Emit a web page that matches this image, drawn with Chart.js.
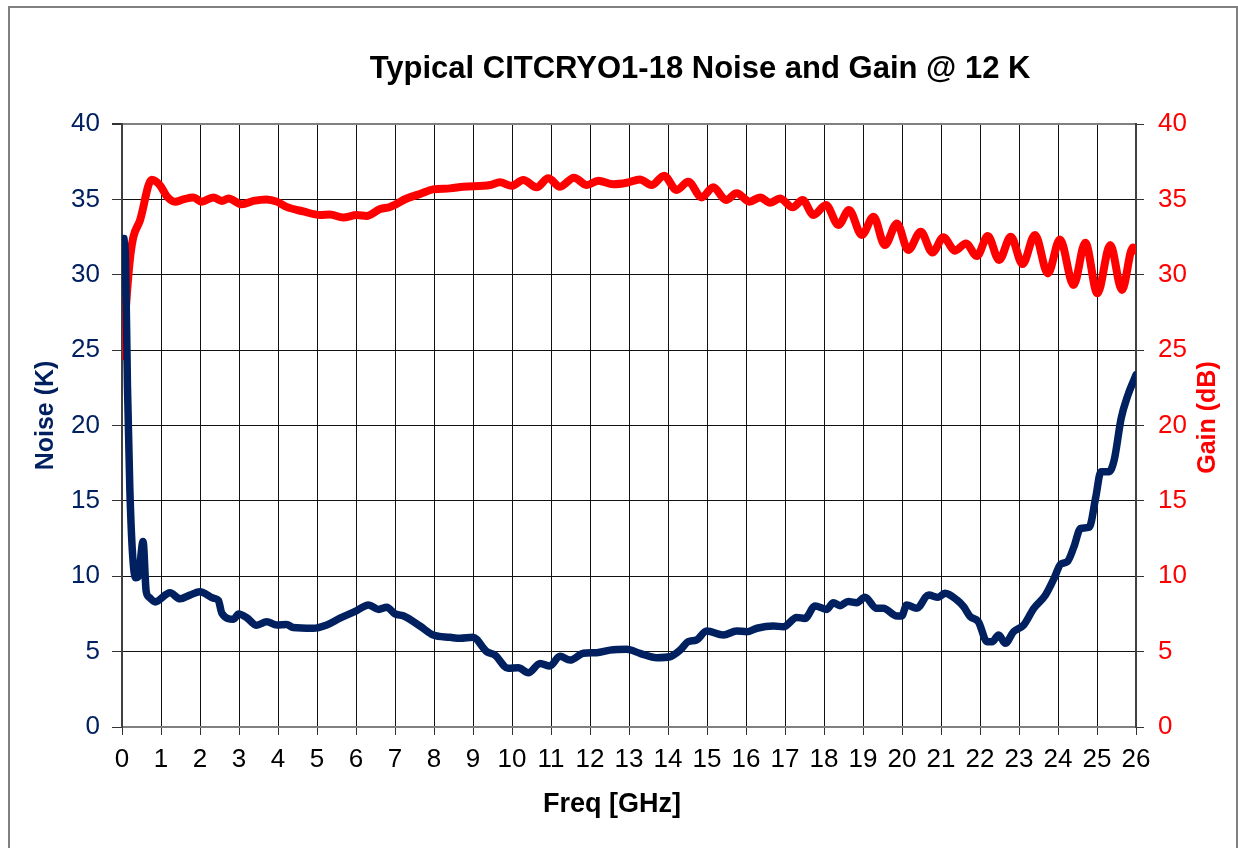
<!DOCTYPE html>
<html>
<head>
<meta charset="utf-8">
<script src="https://cdn.jsdelivr.net/npm/chart.js@4.4.1/dist/chart.umd.min.js"></script>
<style>
  body { margin: 0; background: #fff; overflow: hidden; }
  #wrap { width: 1238px; height: 848px; position: relative; }
</style>
</head>
<body>
<div id="wrap"><canvas id="chart"></canvas></div>
<script>
// noise (K) vs frequency (GHz)
const noiseFreq = [0.05, 0.09, 0.14, 0.2, 0.27, 0.35, 0.42, 0.54, 0.62, 0.7, 0.85, 1.23, 1.49, 1.74, 2.0,
  2.34, 2.47, 2.56, 2.86, 2.99, 3.2, 3.45, 3.71, 3.97, 4.22, 4.39, 4.9, 5.25, 5.59, 6.02, 6.32, 6.58,
  6.79, 7.0, 7.21, 7.64, 7.98, 8.41, 8.67, 9.0, 9.35, 9.56, 9.9, 10.16, 10.42, 10.72, 10.97, 11.23,
  11.49, 11.83, 12.17, 12.51, 12.94, 13.28, 13.71, 14.05, 14.31, 14.52, 14.73, 14.99, 15.42, 15.76,
  16.02, 16.28, 16.7, 16.96, 17.3, 17.51, 17.77, 18.07, 18.24, 18.41, 18.62, 18.84, 19.05, 19.35,
  19.52, 19.87, 19.99, 20.12, 20.38, 20.68, 20.93, 21.1, 21.41, 21.58, 21.75, 21.96, 22.18, 22.31,
  22.48, 22.65, 22.86, 23.12, 23.38, 23.68, 23.9, 24.07, 24.24, 24.41, 24.58, 24.8, 24.97, 25.1,
  25.31, 25.44, 25.62, 25.79, 26.0];
const noiseK = [32.4, 31, 22.6, 15.9, 11.5, 9.9, 10.0, 12.3, 9.0, 8.6, 8.3, 8.9, 8.5, 8.75, 8.97,
  8.55, 8.4, 7.55, 7.15, 7.5, 7.25, 6.75, 6.98, 6.77, 6.8, 6.6, 6.55, 6.77, 7.22, 7.72, 8.1, 7.8,
  7.94, 7.5, 7.38, 6.7, 6.1, 5.95, 5.88, 5.95, 5.0, 4.78, 3.89, 3.93, 3.6, 4.22, 4.05, 4.69,
  4.44, 4.89, 4.93, 5.1, 5.15, 4.89, 4.6, 4.66, 5.1, 5.66, 5.77, 6.37, 6.1, 6.37,
  6.32, 6.55, 6.7, 6.65, 7.27, 7.2, 8.03, 7.8, 8.25, 8.05, 8.32, 8.25, 8.6, 7.87,
  7.87, 7.36, 7.36, 8.1, 7.87, 8.76, 8.6, 8.87, 8.42, 7.98, 7.32, 6.98, 5.66, 5.66,
  6.1, 5.55, 6.32, 6.77, 7.87, 8.76, 9.86, 10.8, 10.97, 11.96, 13.18, 13.25, 15.28, 16.94,
  16.94, 17.7, 20.48, 22.0, 23.35];

// gain (dB) vs frequency (GHz)
const gainFreq = [0.02, 0.14, 0.22, 0.29, 0.46, 0.76, 0.97, 1.15, 1.36, 1.57, 1.83, 2.04, 2.34, 2.56,
  2.73, 3.07, 3.37, 3.71, 3.97, 4.22, 4.65, 5.08, 5.33, 5.67, 6.02, 6.27, 6.62, 6.87, 7.3, 7.64,
  7.98, 8.41, 8.75, 9.44, 9.69, 9.99, 10.29, 10.63, 10.93, 11.23, 11.59, 11.92, 12.21, 12.6, 12.94,
  13.28, 13.58, 13.9, 14.22, 14.52, 14.86, 15.16, 15.49, 15.76, 16.09, 16.36, 16.62, 16.87, 17.2,
  17.45, 17.73, 18.05, 18.37, 18.64, 18.97, 19.27, 19.56, 19.87, 20.16, 20.48, 20.78, 21.06, 21.36,
  21.64, 21.92, 22.2, 22.49, 22.79, 23.09, 23.41, 23.74, 24.05, 24.4, 24.7, 25.01, 25.34, 25.64,
  25.92, 26.0];
const gainDb = [24.6, 29.2, 31.4, 32.5, 33.6, 36.3, 35.95, 35.2, 34.85, 35.0, 35.13, 34.85, 35.13, 34.9,
  35.06, 34.67, 34.9, 35.0, 34.85, 34.5, 34.2, 33.96, 34.0, 33.8, 33.96, 33.9, 34.36, 34.5, 35.06, 35.36,
  35.66, 35.73, 35.84, 35.95, 36.13, 35.9, 36.28, 35.8, 36.4, 35.84, 36.44, 35.95, 36.24, 36.0, 36.1,
  36.32, 35.95, 36.57, 35.62, 36.17, 35.13, 35.8, 34.96, 35.4, 34.85, 35.13, 34.78, 35.06, 34.47,
  34.96, 33.96, 34.63, 33.3, 34.3, 32.64, 33.85, 31.97, 33.4, 31.64, 32.86, 31.47, 32.48, 31.6,
  32.08, 31.24, 32.57, 30.98, 32.52, 30.71, 32.64, 30.09, 32.34, 29.32, 32.13, 28.77, 31.97, 28.99,
  31.8, 31.6];

const NAVY = '#002060';
const RED = '#ff0000';
const FONT = '"Liberation Sans", Arial, sans-serif';

Chart.defaults.font.family = FONT;

// frame, titles drawn by hand so they sit where Excel put them
const decor = {
  id: 'decor',
  beforeDraw(chart) {
    const c = chart.ctx;
    c.save();
    c.strokeStyle = '#808080';
    c.lineWidth = 2;
    c.strokeRect(9, 7, 1228, 900);
    c.restore();
  },
  afterDraw(chart) {
    const c = chart.ctx;
    const a = chart.chartArea;
    const mid = (a.top + a.bottom) / 2;
    c.save();
    c.textAlign = 'center';
    c.textBaseline = 'middle';
    c.fillStyle = '#000';
    c.font = 'bold 31px ' + FONT;
    c.fillText('Typical CITCRYO1-18 Noise and Gain @ 12 K', 700, 69);
    c.font = 'bold 27px ' + FONT;
    c.fillText('Freq [GHz]', 612, 805);

    c.font = 'bold 25px ' + FONT;
    c.fillStyle = NAVY;
    c.translate(46, mid - 10);
    c.rotate(-Math.PI / 2);
    c.fillText('Noise (K)', 0, 0);
    c.restore();

    c.save();
    c.textAlign = 'center';
    c.textBaseline = 'middle';
    c.font = 'bold 25px ' + FONT;
    c.fillStyle = RED;
    c.translate(1208, mid - 8);
    c.rotate(-Math.PI / 2);
    c.fillText('Gain (dB)', 0, 0);
    c.restore();
  }
};

const ctx = document.getElementById('chart');
new Chart(ctx, {
  type: 'line',
  plugins: [decor],
  data: {
    datasets: [
      {
        label: 'Noise',
        data: noiseFreq.map((f, i) => ({ x: f, y: noiseK[i] })),
        borderColor: NAVY,
        borderWidth: 7.5,
        yAxisID: 'y',
      },
      {
        label: 'Gain',
        data: gainFreq.map((f, i) => ({ x: f, y: gainDb[i] })),
        borderColor: RED,
        borderWidth: 8,
        yAxisID: 'y1',
      },
    ]
  },
  options: {
    responsive: true,
    maintainAspectRatio: false,
    animation: false,
    layout: { padding: { top: 124, left: 0, right: 0, bottom: 0 } },
    elements: {
      point: { radius: 0 },
      line: { cubicInterpolationMode: 'monotone', borderCapStyle: 'round', borderJoinStyle: 'round' }
    },
    plugins: {
      legend: { display: false },
      title: { display: false },
      tooltip: { enabled: false }
    },
    scales: {
      x: {
        type: 'linear',
        min: 0, max: 26,
        afterFit: s => { s.height = 121; },
        border: { color: '#808080', width: 2 },
        grid: { color: '#111', lineWidth: 1, tickColor: '#333', tickLength: 8 },
        ticks: { stepSize: 1, autoSkip: false, maxRotation: 0, color: '#000', font: { size: 26 }, padding: 9 }
      },
      y: {
        position: 'left',
        min: 0, max: 40,
        afterFit: s => { s.width = 122; },
        border: { color: '#404040', width: 2 },
        grid: {
          color: c => c.tick && c.tick.value === 40 ? '#808080' : '#111',
          lineWidth: c => c.tick && c.tick.value === 40 ? 2 : 1,
          tickColor: '#333', tickLength: 10
        },
        ticks: { stepSize: 5, color: NAVY, font: { size: 26 }, padding: 12 }
      },
      y1: {
        position: 'right',
        min: 0, max: 40,
        afterFit: s => { s.width = 102; },
        border: { color: '#404040', width: 2 },
        grid: { drawOnChartArea: false, tickColor: '#333', tickLength: 8 },
        ticks: { stepSize: 5, color: RED, font: { size: 26 }, padding: 14 }
      }
    }
  }
});
</script>
</body>
</html>
